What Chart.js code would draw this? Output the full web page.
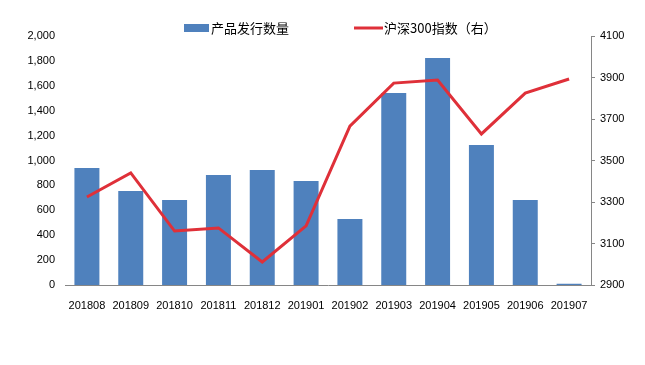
<!DOCTYPE html>
<html><head><meta charset="utf-8">
<script src="https://cdn.jsdelivr.net/npm/chart.js@4.4.1/dist/chart.umd.min.js"></script>
<style>html,body{margin:0;padding:0;background:#fff}#w{width:645px;height:365px;position:relative}</style>
</head><body><div id="w"><canvas id="c"></canvas></div>
<script>
const categories = ['201808','201809','201810','201811','201812','201901','201902','201903','201904','201905','201906','201907'];
const productCount = [940, 755, 683, 884, 924, 835, 530, 1542, 1823, 1124, 683, 10];
const hs300Index = [3324, 3440, 3160, 3175, 3011, 3185, 3666, 3873, 3888, 3628, 3825, 3893];
const leftTicks = [0, 200, 400, 600, 800, 1000, 1200, 1400, 1600, 1800, 2000];
const rightTicks = [2900, 3100, 3300, 3500, 3700, 3900, 4100];
const seriesNames = ['产品发行数量', '沪深300指数（右）'];

const legendPlugin = {
  id: 'customLegend',
  afterDraw(chart) {
    const ctx = chart.ctx;
    const barDs = chart.data.datasets.find(d => d.type === 'bar');
    const lineDs = chart.data.datasets.find(d => d.type === 'line');
    ctx.save();
    ctx.font = '13px "Noto Sans CJK SC"';
    ctx.textBaseline = 'middle';
    const y = 28;
    ctx.fillStyle = barDs.backgroundColor;
    ctx.fillRect(184, y - 4, 25, 8);
    ctx.fillStyle = '#000';
    ctx.fillText(barDs.label, 211, y);
    ctx.strokeStyle = lineDs.borderColor;
    ctx.lineWidth = 3;
    ctx.beginPath(); ctx.moveTo(354, y); ctx.lineTo(383, y); ctx.stroke();
    ctx.fillText(lineDs.label, 384, y);
    ctx.restore();
  }
};

const tickFont = { family: '"Liberation Sans", Arial, sans-serif', size: 11 };
new Chart(document.getElementById('c'), {
  data: {
    labels: categories,
    datasets: [
      { type: 'line', label: seriesNames[1], data: hs300Index, yAxisID: 'y1', borderColor: '#DF3039', backgroundColor: '#DF3039', borderWidth: 3, pointRadius: 0, tension: 0, order: 0 },
      { type: 'bar', label: seriesNames[0], data: productCount, yAxisID: 'y', backgroundColor: '#4F81BD', barPercentage: 0.57, categoryPercentage: 1, order: 1 }
    ]
  },
  options: {
    responsive: true, maintainAspectRatio: false, animation: false,
    layout: { padding: { top: 36, left: 0, right: 0, bottom: 0 } },
    plugins: { legend: { display: false }, tooltip: { enabled: false } },
    scales: {
      x: {
        grid: { display: false }, border: { display: true, color: '#868686' },
        ticks: { color: '#000', font: tickFont, padding: 6, maxRotation: 0, autoSkip: false },
        afterFit(s) { s.height = 80; }
      },
      y: {
        position: 'left', min: 0, max: 2000,
        grid: { display: false, drawTicks: false }, border: { display: false },
        afterBuildTicks(s) { s.ticks = leftTicks.map(v => ({ value: v })); },
        ticks: { color: '#000', font: tickFont, padding: 10, callback: v => v.toLocaleString('en-US') },
        afterFit(s) { s.width = 65; }
      },
      y1: {
        position: 'right', min: 2900, max: 4100,
        grid: { display: true, drawOnChartArea: false, drawTicks: true, tickLength: 4, color: '#868686' },
        border: { display: true, color: '#868686' },
        afterBuildTicks(s) { s.ticks = rightTicks.map(v => ({ value: v })); },
        ticks: { color: '#000', font: tickFont, padding: 5, callback: v => String(v) },
        afterFit(s) { s.width = 54; }
      }
    }
  },
  plugins: [legendPlugin]
});
</script></body></html>
